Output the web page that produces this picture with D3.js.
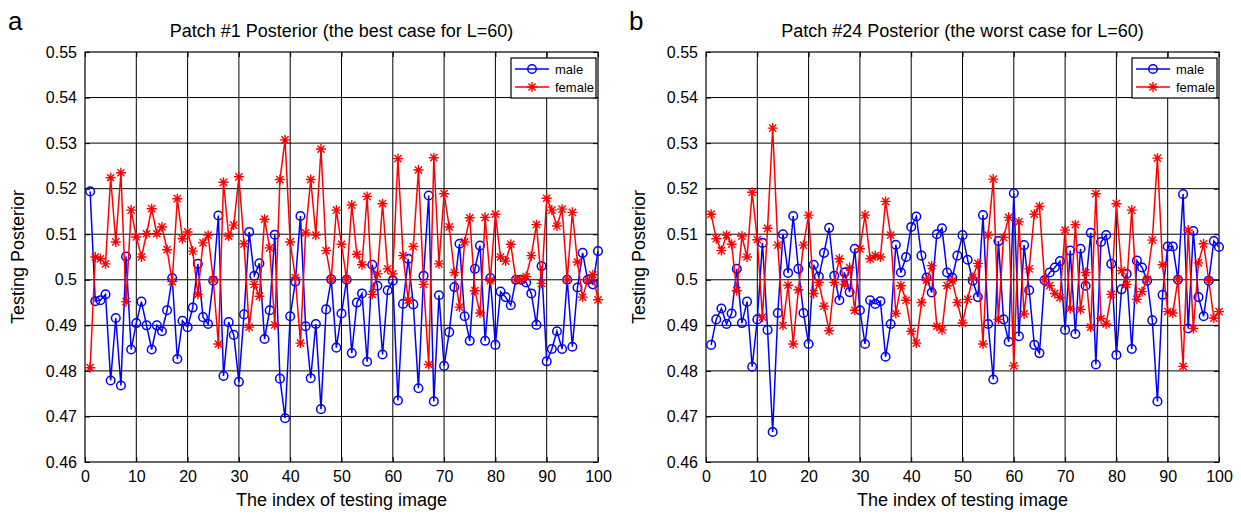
<!DOCTYPE html>
<html>
<head>
<meta charset="utf-8">
<script src="https://cdn.jsdelivr.net/npm/d3@7"></script>
<style>
  body { margin: 0; background: #fff; }
  svg { display: block; font-family: "Liberation Sans", Arial, sans-serif; }
</style>
</head>
<body>
<div id="chart"></div>
<script>
const seriesNames = ['male', 'female'];
const xTicks = d3.range(0, 101, 10);
const yTicks = [0.46, 0.47, 0.48, 0.49, 0.50, 0.51, 0.52, 0.53, 0.54, 0.55];

const maleA = [
  0.5194, 0.4953, 0.4955, 0.4968, 0.4779, 0.4916, 0.4768, 0.5051, 0.4847, 0.4905,
  0.4952, 0.4900, 0.4847, 0.4900, 0.4887, 0.4933, 0.5004, 0.4826, 0.4910, 0.4896,
  0.4939, 0.5035, 0.4918, 0.4903, 0.4998, 0.5141, 0.4789, 0.4907, 0.4879, 0.4776,
  0.4924, 0.5105, 0.5009, 0.5036, 0.4870, 0.4933, 0.5099, 0.4783, 0.4696, 0.4920,
  0.4996, 0.5140, 0.4898, 0.4784, 0.4903, 0.4716, 0.4935, 0.5001, 0.4851, 0.4926,
  0.5000, 0.4839, 0.4950, 0.4970, 0.4820, 0.5033, 0.4987, 0.4836, 0.4977, 0.4998,
  0.4735, 0.4947, 0.5046, 0.4946, 0.4762, 0.5009, 0.5185, 0.4733, 0.4966, 0.4811,
  0.4885, 0.4984, 0.5079, 0.4920, 0.4866, 0.5024, 0.5075, 0.4866, 0.5004, 0.4857,
  0.4974, 0.4962, 0.4944, 0.5000, 0.5000, 0.4994, 0.4970, 0.4901, 0.5030, 0.4821,
  0.4848, 0.4887, 0.4848, 0.5000, 0.4853, 0.4983, 0.5059, 0.5000, 0.4990, 0.5063
];
const femaleA = [
  0.4807, 0.5050, 0.5046, 0.5035, 0.5224, 0.5083, 0.5235, 0.4952, 0.5153, 0.5094,
  0.5050, 0.5101, 0.5156, 0.5101, 0.5116, 0.5066, 0.4996, 0.5178, 0.5090, 0.5105,
  0.5063, 0.4968, 0.5081, 0.5098, 0.5000, 0.4859, 0.5214, 0.5096, 0.5120, 0.5226,
  0.5079, 0.4896, 0.4990, 0.4964, 0.5133, 0.5070, 0.4901, 0.5220, 0.5307, 0.5083,
  0.5005, 0.4861, 0.5103, 0.5220, 0.5098, 0.5287, 0.5064, 0.5001, 0.5153, 0.5078,
  0.5001, 0.5164, 0.5056, 0.5033, 0.5183, 0.4968, 0.5013, 0.5167, 0.5024, 0.5013,
  0.5266, 0.5053, 0.4955, 0.5073, 0.5241, 0.4990, 0.4814, 0.5268, 0.5035, 0.5189,
  0.5116, 0.5016, 0.4940, 0.5083, 0.5136, 0.4976, 0.4927, 0.5137, 0.4998, 0.5144,
  0.5050, 0.5041, 0.5078, 0.5000, 0.5000, 0.5007, 0.5053, 0.5121, 0.4992, 0.5179,
  0.5153, 0.5118, 0.5155, 0.5000, 0.5148, 0.5039, 0.4962, 0.5000, 0.5011, 0.4956
];
const maleB = [
  0.4857, 0.4913, 0.4937, 0.4903, 0.4926, 0.5024, 0.4905, 0.4952, 0.4809, 0.4913,
  0.5081, 0.4890, 0.4666, 0.4927, 0.5100, 0.5015, 0.5140, 0.5024, 0.4927, 0.4859,
  0.5033, 0.5007, 0.5059, 0.5114, 0.5009, 0.4955, 0.5016, 0.4973, 0.5068, 0.4933,
  0.4859, 0.4955, 0.4947, 0.4953, 0.4831, 0.4903, 0.5077, 0.5016, 0.5050, 0.5116,
  0.5139, 0.5053, 0.5005, 0.4972, 0.5100, 0.5113, 0.5016, 0.5005, 0.5053, 0.5098,
  0.5044, 0.4998, 0.4962, 0.5142, 0.4903, 0.4781, 0.5085, 0.4913, 0.4864, 0.5190,
  0.4876, 0.5076, 0.4977, 0.4857, 0.4839, 0.4999, 0.5016, 0.5027, 0.5041, 0.4890,
  0.5064, 0.4881, 0.5068, 0.4987, 0.5103, 0.4814, 0.5083, 0.5098, 0.5035, 0.4835,
  0.4979, 0.5013, 0.4848, 0.5042, 0.5027, 0.4998, 0.4911, 0.4733, 0.4967, 0.5073,
  0.5073, 0.5000, 0.5188, 0.4893, 0.5107, 0.4962, 0.4920, 0.4998, 0.5085, 0.5072
];
const femaleB = [
  0.5144, 0.5090, 0.5064, 0.5098, 0.5078, 0.4976, 0.5096, 0.5050, 0.5192, 0.5088,
  0.4918, 0.5113, 0.5333, 0.5076, 0.4900, 0.4988, 0.4859, 0.4978, 0.5076, 0.5142,
  0.4970, 0.4994, 0.4942, 0.4888, 0.4994, 0.5046, 0.4990, 0.5027, 0.4933, 0.5068,
  0.5142, 0.5046, 0.5053, 0.5050, 0.5172, 0.5098, 0.4926, 0.4987, 0.4955, 0.4887,
  0.4861, 0.4950, 0.4999, 0.5031, 0.4898, 0.4890, 0.4987, 0.4998, 0.4950, 0.4905,
  0.4957, 0.5005, 0.5036, 0.4859, 0.5098, 0.5221, 0.4913, 0.5093, 0.5137, 0.4811,
  0.5127, 0.4925, 0.5024, 0.5144, 0.5161, 0.5000, 0.4987, 0.4970, 0.4961, 0.5109,
  0.4937, 0.5121, 0.4935, 0.5016, 0.4896, 0.5189, 0.4915, 0.4903, 0.4968, 0.5167,
  0.5020, 0.4990, 0.5153, 0.4957, 0.4974, 0.5001, 0.5087, 0.5267, 0.5033, 0.4930,
  0.4927, 0.5001, 0.4810, 0.5109, 0.4893, 0.5037, 0.5079, 0.4999, 0.4916, 0.4930
];

const width = 1241;
const height = 514;
const svg = d3.select('#chart').append('svg')
  .attr('width', width)
  .attr('height', height);
svg.append('rect').attr('width', width).attr('height', height).attr('fill', '#fff');

const starPath = 'M-5,0L5,0M0,-5L0,5M-3.6,-3.6L3.6,3.6M-3.6,3.6L3.6,-3.6';

function drawPanel(opts) {
  const { left, right, top, bottom, letter, title, male, female } = opts;
  const x = d3.scaleLinear().domain([0, 100]).range([left, right]);
  const y = d3.scaleLinear().domain([0.46, 0.55]).range([bottom, top]);
  const g = svg.append('g');

  // grid
  g.append('g').selectAll('line').data(xTicks.slice(1, -1)).enter().append('line')
    .attr('x1', (d) => x(d)).attr('x2', (d) => x(d))
    .attr('y1', top).attr('y2', bottom)
    .attr('stroke', '#000').attr('stroke-width', 1);
  g.append('g').selectAll('line').data(yTicks.slice(1, -1)).enter().append('line')
    .attr('y1', (d) => y(d)).attr('y2', (d) => y(d))
    .attr('x1', left).attr('x2', right)
    .attr('stroke', '#000').attr('stroke-width', 1);

  // axes (ticks inside, box on)
  const axB = d3.axisBottom(x).tickValues(xTicks).tickSizeInner(-5).tickSizeOuter(0)
    .tickPadding(9).tickFormat(d3.format('d'));
  const axL = d3.axisLeft(y).tickValues(yTicks).tickSizeInner(-5).tickSizeOuter(0)
    .tickPadding(8).tickFormat((d) => (d === 0.5 ? '0.5' : d3.format('.2f')(d)));
  const axT = d3.axisTop(x).tickValues(xTicks).tickSizeInner(-5).tickSizeOuter(0).tickFormat('');
  const axR = d3.axisRight(y).tickValues(yTicks).tickSizeInner(-5).tickSizeOuter(0).tickFormat('');

  [[axB, `translate(0,${bottom})`], [axL, `translate(${left},0)`],
    [axT, `translate(0,${top})`], [axR, `translate(${right},0)`]].forEach(([ax, tr]) => {
    const a = g.append('g').attr('transform', tr).call(ax);
    a.selectAll('text').attr('font-size', 16).attr('fill', '#000')
      .attr('font-family', '"Liberation Sans", Arial, sans-serif');
    a.selectAll('line').attr('stroke', '#000');
    a.select('.domain').attr('stroke', 'none');
  });

  g.append('rect')
    .attr('x', left).attr('y', top)
    .attr('width', right - left).attr('height', bottom - top)
    .attr('fill', 'none').attr('stroke', '#000').attr('stroke-width', 1.2);

  const line = d3.line().x((d, i) => x(i + 1)).y((d) => y(d));

  // male
  g.append('path').datum(male).attr('d', line)
    .attr('fill', 'none').attr('stroke', '#0000ff').attr('stroke-width', 1.5);
  g.append('g').selectAll('circle').data(male).enter().append('circle')
    .attr('cx', (d, i) => x(i + 1)).attr('cy', (d) => y(d)).attr('r', 4.3)
    .attr('fill', 'none').attr('stroke', '#0000ff').attr('stroke-width', 1.5);

  // female
  g.append('path').datum(female).attr('d', line)
    .attr('fill', 'none').attr('stroke', '#ff0000').attr('stroke-width', 1.5);
  g.append('g').selectAll('path').data(female).enter().append('path')
    .attr('d', starPath)
    .attr('transform', (d, i) => `translate(${x(i + 1)},${y(d)})`)
    .attr('fill', 'none').attr('stroke', '#ff0000').attr('stroke-width', 1.4);

  // title, labels
  g.append('text').attr('x', (left + right) / 2).attr('y', top - 15)
    .attr('text-anchor', 'middle').attr('font-size', 18).text(title);
  g.append('text').attr('x', left - 77).attr('y', 30)
    .attr('font-size', 26).text(letter);
  g.append('text').attr('x', (left + right) / 2).attr('y', bottom + 44)
    .attr('text-anchor', 'middle').attr('font-size', 18).text('The index of testing image');
  g.append('text')
    .attr('transform', `translate(${left - 61},${(top + bottom) / 2}) rotate(-90)`)
    .attr('text-anchor', 'middle').attr('font-size', 18).text('Testing Posterior');

  // legend
  const lx = right - 87;
  const ly = top + 6;
  const legend = g.append('g');
  legend.append('rect').attr('x', lx).attr('y', ly).attr('width', 85).attr('height', 40)
    .attr('fill', '#fff').attr('stroke', '#000').attr('stroke-width', 1.2);
  seriesNames.forEach((name, i) => {
    const yy = ly + 11 + i * 18;
    const color = i === 0 ? '#0000ff' : '#ff0000';
    legend.append('line').attr('x1', lx + 4).attr('x2', lx + 38).attr('y1', yy).attr('y2', yy)
      .attr('stroke', color).attr('stroke-width', 1.5);
    if (i === 0) {
      legend.append('circle').attr('cx', lx + 21).attr('cy', yy).attr('r', 4.3)
        .attr('fill', 'none').attr('stroke', color).attr('stroke-width', 1.5);
    } else {
      legend.append('path').attr('d', starPath).attr('transform', `translate(${lx + 21},${yy})`)
        .attr('fill', 'none').attr('stroke', color).attr('stroke-width', 1.4);
    }
    legend.append('text').attr('x', lx + 44).attr('y', yy + 4.5)
      .attr('font-size', 13).text(name);
  });
}

drawPanel({
  left: 85, right: 598, top: 52, bottom: 462,
  letter: 'a', title: 'Patch #1 Posterior (the best case for L=60)',
  male: maleA, female: femaleA,
});
drawPanel({
  left: 706, right: 1219, top: 52, bottom: 462,
  letter: 'b', title: 'Patch #24 Posterior (the worst case for L=60)',
  male: maleB, female: femaleB,
});
</script>
</body>
</html>
